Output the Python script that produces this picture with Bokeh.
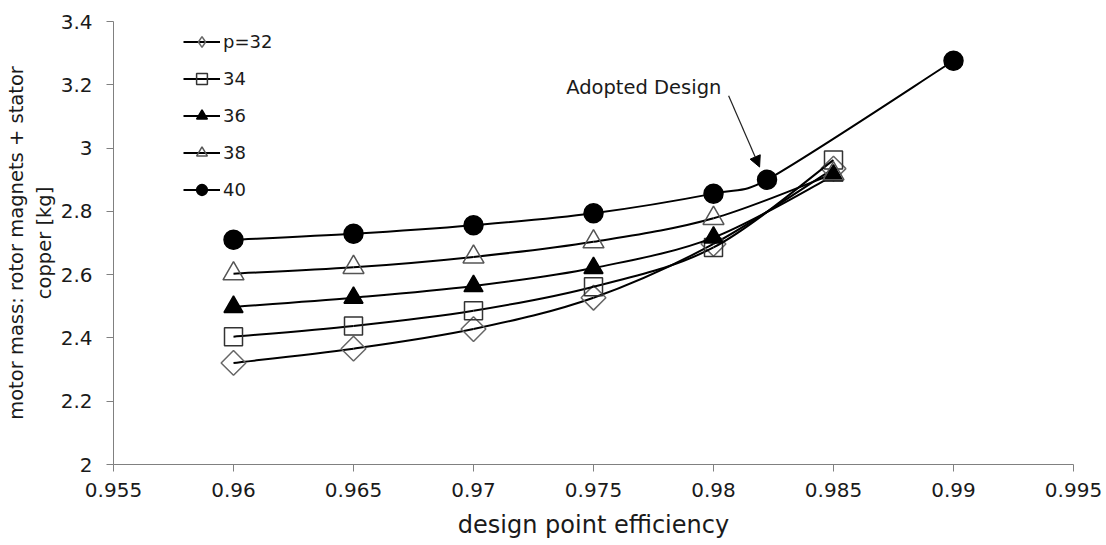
import math
from bokeh.plotting import figure
from bokeh.models import (Legend, LegendItem, FixedTicker, Arrow, NormalHead, Label,
                          ColumnDataSource)
from bokeh.embed import file_html
from bokeh.resources import INLINE

# ---- data ----
eff = [0.96, 0.965, 0.97, 0.975, 0.98, 0.985]
mass_p32 = [2.321, 2.366, 2.428, 2.527, 2.697, 2.935]
mass_p34 = [2.404, 2.438, 2.486, 2.562, 2.686, 2.962]
mass_p36 = [2.498, 2.527, 2.564, 2.621, 2.717, 2.913]
mass_p38 = [2.603, 2.623, 2.656, 2.704, 2.778, 2.919]
eff_p40 = [0.96, 0.965, 0.97, 0.975, 0.98, 0.98223, 0.99]
mass_p40 = [2.710, 2.729, 2.756, 2.794, 2.856, 2.900, 3.276]

series_labels = ["p=32", "34", "36", "38", "40"]

x_ticks = [0.955, 0.96, 0.965, 0.97, 0.975, 0.98, 0.985, 0.99, 0.995]
x_tick_labels = ["0.955", "0.96", "0.965", "0.97", "0.975", "0.98", "0.985", "0.99", "0.995"]
y_ticks = [2.0, 2.2, 2.4, 2.6, 2.8, 3.0, 3.2, 3.4]
y_tick_labels = ["2", "2.2", "2.4", "2.6", "2.8", "3", "3.2", "3.4"]

annotation_text = "Adopted Design"
x_title = "design point efficiency"
y_title = "motor mass: rotor magnets + stator\ncopper [kg]"

FONT = "DejaVu Sans"
TXT = "#1a1a1a"

X0, X1, Y0, Y1 = 0.955, 0.995, 2.0, 3.4
FRAME_W, FRAME_H = 960, 443   # used only to make the smoothing isotropic in pixels

p = figure(width=1106, height=545, output_backend="svg", toolbar_location=None,
           x_range=(X0, X1), y_range=(Y0, Y1),
           min_border_left=113, min_border_right=33, min_border_top=21, min_border_bottom=81)
p.outline_line_color = None
p.xgrid.visible = False
p.ygrid.visible = False
p.background_fill_color = "white"

for ax in (p.xaxis[0], p.yaxis[0]):
    ax.axis_line_color = "#808080"
    ax.major_tick_line_color = "#808080"
    ax.major_tick_out = 7
    ax.major_tick_in = 0
    ax.minor_tick_line_color = None
    ax.major_label_text_font = FONT
    ax.major_label_text_font_size = "20px"
    ax.major_label_text_color = TXT
    ax.axis_label_text_font = FONT
    ax.axis_label_text_font_style = "normal"
    ax.axis_label_text_color = TXT

p.xaxis.ticker = FixedTicker(ticks=x_ticks)
p.xaxis.major_label_overrides = dict(zip(x_ticks, x_tick_labels))
p.yaxis.ticker = FixedTicker(ticks=y_ticks)
p.yaxis.major_label_overrides = dict(zip(y_ticks, y_tick_labels))
p.xaxis.axis_label = x_title
p.yaxis.axis_label = y_title
p.xaxis.axis_label_text_font_size = "24px"
p.yaxis.axis_label_text_font_size = "19.5px"
p.xaxis.major_label_standoff = 11
p.yaxis.major_label_standoff = 14
p.xaxis.axis_label_standoff = 11
p.yaxis.axis_label_standoff = 2


def smooth_segments(xs, ys):
    """Excel-like smoothed line: Catmull-Rom Bezier arms, capped at half the segment length."""
    kx = FRAME_W / (X1 - X0)
    ky = FRAME_H / (Y1 - Y0)
    n = len(xs)
    out = dict(x0=[], y0=[], x1=[], y1=[], cx0=[], cy0=[], cx1=[], cy1=[])
    for i in range(n - 1):
        i0 = max(i - 1, 0)
        i3 = min(i + 2, n - 1)
        seg = math.hypot((xs[i + 1] - xs[i]) * kx, (ys[i + 1] - ys[i]) * ky)
        ax_, ay_ = (xs[i + 1] - xs[i0]) / 6.0, (ys[i + 1] - ys[i0]) / 6.0
        bx_, by_ = (xs[i3] - xs[i]) / 6.0, (ys[i3] - ys[i]) / 6.0
        la = math.hypot(ax_ * kx, ay_ * ky)
        lb = math.hypot(bx_ * kx, by_ * ky)
        sa = min(1.0, 0.5 * seg / la) if la > 0 else 1.0
        sb = min(1.0, 0.5 * seg / lb) if lb > 0 else 1.0
        out["x0"].append(xs[i]); out["y0"].append(ys[i])
        out["x1"].append(xs[i + 1]); out["y1"].append(ys[i + 1])
        out["cx0"].append(xs[i] + ax_ * sa)
        out["cy0"].append(ys[i] + ay_ * sa)
        out["cx1"].append(xs[i + 1] - bx_ * sb)
        out["cy1"].append(ys[i + 1] - by_ * sb)
    return out


styles = [
    dict(marker="square", size=17.5, angle=math.pi / 4, line_color="#666666", fill_alpha=0,
         legend_marker="diamond"),
    dict(marker="square", size=18, angle=0, line_color="#333333", fill_alpha=0),
    dict(marker="triangle", size=19, angle=0, line_color="black", fill_color="black", fill_alpha=1),
    dict(marker="triangle", size=21, angle=0, line_color="#555555", fill_alpha=0),
    dict(marker="circle", size=19, angle=0, line_color="black", fill_color="black", fill_alpha=1),
]
xs_all = [eff, eff, eff, eff, eff_p40]
ys_all = [mass_p32, mass_p34, mass_p36, mass_p38, mass_p40]

items = []
for xs, ys, st, lab in zip(xs_all, ys_all, styles, series_labels):
    seg = ColumnDataSource(smooth_segments(xs, ys))
    bez = p.bezier(x0="x0", y0="y0", x1="x1", y1="y1", cx0="cx0", cy0="cy0", cx1="cx1", cy1="cy1",
                   source=seg, line_color="black", line_width=2)
    sc = p.scatter(xs, ys, marker=st["marker"], size=st["size"], angle=st["angle"],
                   line_color=st["line_color"], fill_color=st.get("fill_color", "white"),
                   fill_alpha=st["fill_alpha"], line_width=1.5)
    leg_marker = sc
    if "legend_marker" in st:
        # marker used only for the legend swatch (legend swatches ignore angle)
        leg_marker = p.scatter(x=[float("nan")], y=[float("nan")], marker=st["legend_marker"],
                               size=st["size"], line_color=st["line_color"],
                               fill_alpha=0, line_width=1.5)
    items.append(LegendItem(label=lab, renderers=[bez, leg_marker]))

legend = Legend(items=items, location=(70, 261), orientation="vertical",
                glyph_width=37, glyph_height=27, spacing=10, padding=0, margin=0,
                label_standoff=3, label_text_font=FONT, label_text_font_size="18px",
                label_text_color=TXT, border_line_alpha=0, background_fill_alpha=0)
p.add_layout(legend)

p.add_layout(Arrow(end=NormalHead(size=11, fill_color="black", line_color="black", line_width=1),
                   x_start=0.98063, y_start=3.165, x_end=0.98192, y_end=2.940,
                   line_color="#222222", line_width=1.2))
p.add_layout(Label(x=0.97386, y=3.192, text=annotation_text, text_font=FONT,
                   text_font_size="19.5px", text_color=TXT, text_baseline="alphabetic"))

open("out.html", "w").write(file_html(p, INLINE))
